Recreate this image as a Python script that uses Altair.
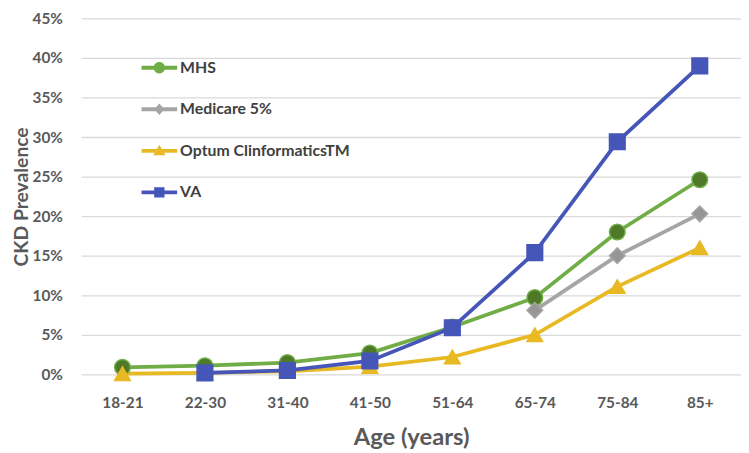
import altair as alt
import pandas as pd

ages = ["18-21", "22-30", "31-40", "41-50", "51-64", "65-74", "75-84", "85+"]
series_names = ["MHS", "Medicare 5%", "Optum ClinformaticsTM", "VA"]
y_ticks = [0.0, 0.05, 0.10, 0.15, 0.20, 0.25, 0.30, 0.35, 0.40, 0.45]

mhs = [0.9, 1.1, 1.5, 2.7, 6.0, 9.7, 18.0, 24.6]
medicare = [None, None, None, None, None, 8.1, 15.0, 20.3]
optum = [0.1, 0.2, 0.4, 1.0, 2.2, 5.0, 11.1, 16.0]
va = [None, 0.2, 0.5, 1.7, 5.9, 15.4, 29.4, 39.0]

line_colors = ["#70AD47", "#A5A5A5", "#E8B923", "#4556B8"]
marker_fill = ["#4E7A27", "#969696", "#E8B923", "#4556B8"]
marker_shapes = ["circle", "diamond", "triangle-up", "square"]

bar = "M-1,-0.11L1,-0.11L1,0.11L-1,0.11Z"
legend_paths = [
    bar + "M-0.32,0A0.32,0.32,0,1,1,0.32,0A0.32,0.32,0,1,1,-0.32,0Z",
    bar + "M0,-0.32L0.28,0L0,0.32L-0.28,0Z",
    bar + "M0,-0.35L0.34,0.24L-0.34,0.24Z",
    bar + "M-0.29,-0.29L0.29,-0.29L0.29,0.29L-0.29,0.29Z",
]

rows = []
for name, vals in zip(series_names, [mhs, medicare, optum, va]):
    for a, v in zip(ages, vals):
        if v is not None:
            rows.append({"age": a, "series": name, "value": v / 100.0})
df = pd.DataFrame(rows)

FONT = "Lato"
GREY = "#595959"

x_enc = alt.X(
    "age:N",
    sort=ages,
    scale=alt.Scale(type="point", padding=0.5, domain=ages),
    axis=alt.Axis(
        title="Age (years)",
        labelAngle=0,
        labelFontSize=15.5,
        labelFontWeight="bold",
        labelColor=GREY,
        labelFont=FONT,
        labelPadding=21,
        titleFontSize=24,
        titleFontWeight="bold",
        titleColor=GREY,
        titleFont=FONT,
        titlePadding=15,
        domain=False,
        ticks=False,
        grid=False,
    ),
)
y_enc = alt.Y(
    "value:Q",
    scale=alt.Scale(domain=[0, 0.4501], nice=False, zero=True),
    axis=alt.Axis(
        title="CKD Prevalence",
        values=y_ticks,
        format=".0%",
        labelOverlap=False,
        labelFontSize=15.5,
        labelFontWeight="bold",
        labelColor=GREY,
        labelFont=FONT,
        labelPadding=19,
        titleFontSize=19.5,
        titleFontWeight="bold",
        titleColor=GREY,
        titleFont=FONT,
        titlePadding=1,
        domain=False,
        ticks=False,
        gridColor="#D9D9D9",
        gridWidth=1.3,
    ),
)

base = alt.Chart(df)

lines = base.mark_line(strokeWidth=3.8).encode(
    x=x_enc,
    y=y_enc,
    color=alt.Color(
        "series:N",
        scale=alt.Scale(domain=series_names, range=line_colors),
        legend=None,
    ),
    detail="series:N",
)

points = base.mark_point(filled=True, size=250, strokeWidth=1.5, opacity=1).encode(
    x=x_enc,
    y=y_enc,
    shape=alt.Shape(
        "series:N",
        scale=alt.Scale(domain=series_names, range=marker_shapes),
        legend=None,
    ),
    fill=alt.Fill(
        "series:N",
        scale=alt.Scale(domain=series_names, range=marker_fill),
        legend=None,
    ),
    stroke=alt.Stroke(
        "series:N",
        scale=alt.Scale(domain=series_names, range=line_colors),
        legend=None,
    ),
)

legend_props = dict(
    title=None,
    orient="none",
    legendX=61,
    legendY=32,
    symbolSize=1296,
    symbolStrokeWidth=0,
    symbolOpacity=1,
    rowPadding=16,
    labelFontSize=16,
    labelFontWeight="bold",
    labelColor="#404040",
    labelFont=FONT,
    labelOffset=3,
    labelLimit=300,
    padding=0,
)

legend_layer = base.transform_filter("false").mark_point(filled=True, size=100, opacity=1).encode(
    x=x_enc,
    y=y_enc,
    shape=alt.Shape(
        "series:N",
        scale=alt.Scale(domain=series_names, range=legend_paths),
        legend=alt.Legend(**legend_props),
    ),
    fill=alt.Fill(
        "series:N",
        scale=alt.Scale(domain=series_names, range=line_colors),
        legend=alt.Legend(**legend_props),
    ),
)

chart = (
    alt.layer(lines, points, legend_layer)
    .resolve_scale(shape="independent", fill="independent", stroke="independent")
    .properties(
        width=667,
        height=360,
        autosize=alt.AutoSizeParams(type="none"),
        padding={"left": 74, "top": 8, "right": 0, "bottom": 75},
        background="white",
    )
    .configure_view(stroke=None)
)

chart.save("out.html", embed_options={"renderer": "svg", "actions": False})
